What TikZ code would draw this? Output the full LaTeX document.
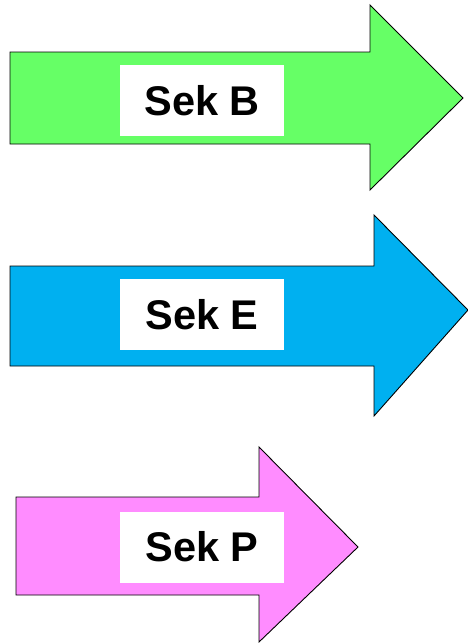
\documentclass[tikz,border=0pt]{standalone}
\usepackage{fontspec}
\setmainfont{Liberation Sans}
\definecolor{arrgreen}{HTML}{66FF66}
\definecolor{arrblue}{HTML}{00B0F0}
\definecolor{arrpink}{HTML}{FF8CFF}
\begin{document}
\begin{tikzpicture}[x=1pt,y=-1pt,
  arrowshape/.style={draw=black,line width=0.9pt,line join=miter},
  label/.style={fill=white,inner sep=0pt,minimum width=164pt,minimum height=71pt,
    font=\fontsize{41.5}{48}\selectfont\bfseries}]
\useasboundingbox (0,0) rectangle (468,643);
% Arrow B
\draw[arrowshape,fill=arrgreen] (10,52) -- (370,52) -- (370,5) -- (463,98) -- (370,190) -- (370,144) -- (10,144) -- cycle;
\node[label] (sekb) at (202,100.5) {Sek B};
% Arrow E
\draw[arrowshape,fill=arrblue] (10,266) -- (374,266) -- (374,215) -- (468,310) -- (374,416) -- (374,366) -- (10,366) -- cycle;
\node[label] (seke) at (202,314.5) {Sek E};
% Arrow P
\draw[arrowshape,fill=arrpink] (16,497) -- (259,497) -- (259,447) -- (358,547) -- (259,642) -- (259,595) -- (16,595) -- cycle;
\node[label] (sekp) at (202,547) {Sek P};
\end{tikzpicture}
\end{document}
